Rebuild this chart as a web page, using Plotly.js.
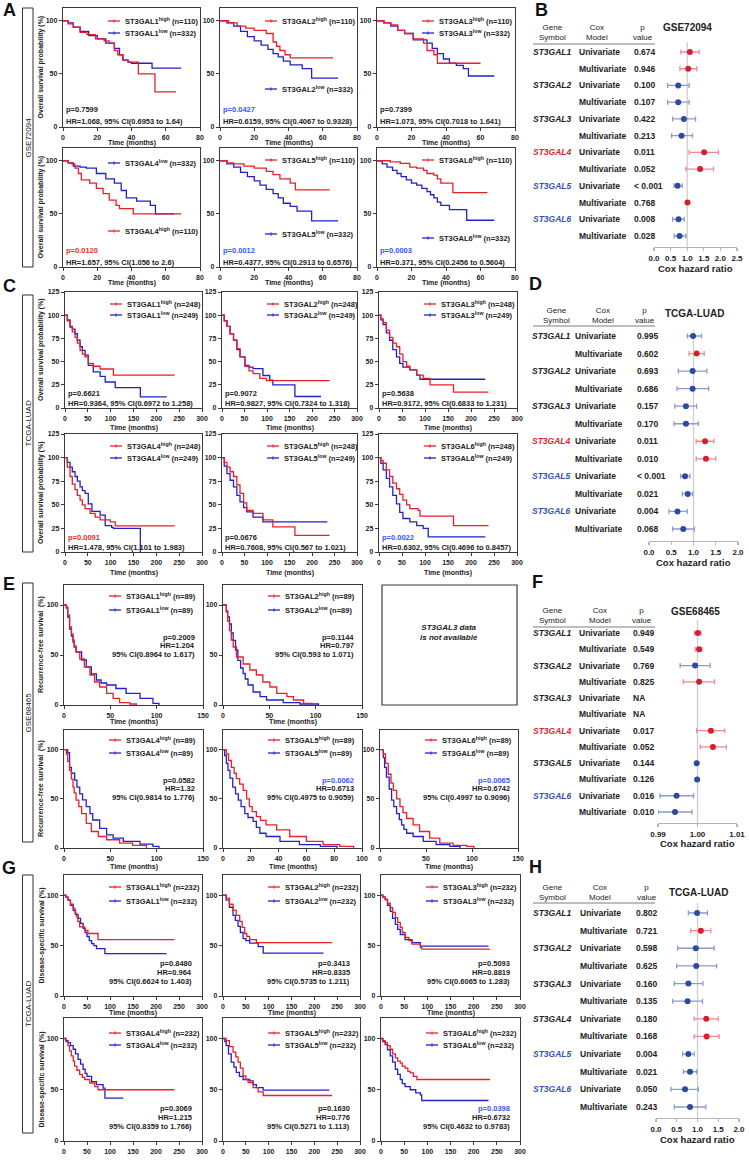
<!DOCTYPE html>
<html><head><meta charset="utf-8">
<script src="https://cdn.plot.ly/plotly-3.0.1.min.js"></script>
<style>html,body{margin:0;padding:0;background:#fff}#chart{width:749px;height:1161px}</style>
</head><body><div id="chart"></div>
<script>
// ---------------- DATA ----------------
const genes = ['ST3GAL1','ST3GAL2','ST3GAL3','ST3GAL4','ST3GAL5','ST3GAL6'];
const coxModels = ['Univariate','Multivariate'];

// A: GSE72094 overall survival, [months, survival %]
const a1High = [[0,100],[3,97],[6,94],[10,89],[14,87],[19,83],[24,81],[27,79],[30,72],[32,68],[35,63],[38,61],[44,50],[53.7,33],[66,33]];
const a1Low  = [[0,100],[3,98],[6,94],[10,90],[15,86],[20,83],[25,79],[30,74],[33,68],[35,63],[38,61],[40,60],[52,55.5],[69,55.5]];
const a2High = [[0,100],[5,98],[10,95],[15,93],[20,91],[27,88],[31,80],[33,76],[35,72],[38,68],[41,65],[66,65]];
const a2Low  = [[0,100],[4,98],[8,95],[12,90],[16,85],[20,81],[24,77],[28,73],[31,69],[34,66],[37,62],[41,58.5],[48,55],[53.5,46],[69,46]];
const a3High = [[0,100],[4,98],[8,96],[12,91],[16,88],[21,83],[27,79],[29,72],[33,68],[35,60],[60,60]];
const a3Low  = [[0,100],[4,98],[8,95],[12,91],[16,88],[21,82],[29,79],[32,74],[35,69],[38.5,64],[42,60],[46,58],[50,55],[53,48],[68,48]];
const a4High = [[0,100],[3,98],[5,97],[7,93],[9,88],[10.7,82],[15.6,79],[19.5,74],[23.4,69],[27,63],[31,58],[33,55],[41,50],[69,50]];
const a4Low  = [[0,100],[3,98],[6,95],[10,94],[13.6,93],[19.5,88],[25,83],[30,79],[34,72],[37,65],[43,62],[51,58],[54,50],[65,50]];
const a5High = [[0,100],[4,98],[8,97],[14,95],[20,93],[27,90],[31,87],[35,83],[41,79],[44,72.5],[64,72.5]];
const a5Low  = [[0,100],[4,97],[8,94],[12,89],[16,85],[20,81],[23.4,77],[27,73],[31,69],[34,65],[37,60],[41,57],[45,52.5],[53.5,43.5],[69,43.5]];
const a6High = [[0,100],[7.7,99],[13.5,97.5],[19,94],[23,93],[27,91],[29,88],[33,86.5],[35,83],[37,79],[44,70],[64,70]];
const a6Low  = [[0,100],[3,97],[5.8,94],[9,91],[11.6,88],[14,85],[17,82],[20,79],[23,77],[26,74],[29,71],[31,68],[33,65],[35,61],[37,58],[42,54],[52,44],[68,44]];

// C: TCGA-LUAD overall survival
const c1High = [[0,100],[5,94],[11,87],[16,82],[22,76],[27,70],[33,62],[38,58],[44,55],[51,48],[62,45],[77,42],[106,35.5],[240,35.5]];
const c1Low  = [[0,100],[5,95],[11,88],[16,85],[22,80],[27,73],[33,66],[38,62],[44,57],[51,46],[62,39],[77,34],[88,28],[110,22],[165,12],[223,12]];
const c2High = [[0,100],[5,94],[11,88],[18,80],[25.6,73],[33,64],[40,55],[51,45],[60,40],[69,37],[84,32],[99,29.4],[239,29.4]];
const c2Low  = [[0,100],[5,94],[11,88],[18,80],[25.6,73],[33,63],[40,55],[51,46],[60,44],[69,42.5],[91,35],[106,30],[113,25],[162,12.4],[220,12.4]];
const c3High = [[0,100],[4,96],[9,92],[16,84],[23,76],[30,70],[38,66],[45,58],[52,50],[60,45],[67,41],[82,35.5],[96,32],[111,25],[162,17],[238,17]];
const c3Low  = [[0,100],[4,95],[9,90],[16,81],[23,73],[30,63],[38,55],[45,48],[52,44],[67,41],[82,35.5],[89,31],[231,31]];
const c4High = [[0,100],[5,90],[11,80],[16,72],[22,66],[27,60],[33,55],[38,50],[44,46],[55,41],[66,37],[77,34],[99,32],[110,27.7],[240,27.7]];
const c4Low  = [[0,100],[5,95],[11,90],[16,85],[22,80],[27,75],[33,69],[38,65],[44,62],[51,51],[59,43],[77,39],[88,28],[102,26],[106,25],[165,0]];
const c5High = [[0,100],[5,95],[11,90],[18,85],[25.6,80],[33,71],[40,62],[48,52],[55,44],[69,41],[91,34],[113,26.6],[162,17.7],[239,17.7]];
const c5Low  = [[0,100],[5,91],[11,83],[18,76],[25.6,69],[33,60],[40,53],[48,47],[55,42.5],[69,37],[91,32],[234,32]];
const c6High = [[0,100],[4,97],[9,94],[16,87],[23,80],[30,73],[38,67],[45,61],[52,55],[60,50],[67,46],[85,44],[89,38],[162,28],[238,28]];
const c6Low  = [[0,100],[4,94],[9,87],[16,78],[23,69],[30,60],[38,51],[45,42],[52,35.5],[67,32],[82,28],[96,25],[107,16],[231,16]];

// E: GSE68465 recurrence-free survival
const e1High = [[0,100],[2.5,98],[4,90],[6,78],[8,71],[9.7,65],[11,59],[13,53],[17,46],[22,38],[28,30],[33,23],[38.5,18],[46,11.6],[53,6.6],[60,2.3],[71,1],[78,0]];
const e1Low  = [[0,100],[2.5,97],[4,88],[6,76],[8,69],[9.7,63],[11,58],[13,53],[19,45],[24,38],[29.5,31],[35,25],[40,22],[46,20],[56,16.5],[67,11.6],[82,6.6],[96,1.6],[102.5,0]];
const e2High = [[0,100],[3.6,93],[5,84],[7,74.5],[9,65],[11,58],[14.5,48],[21.7,41],[29,35],[36,30],[43,23],[50.6,18],[58,11.6],[69,8.3],[76,5],[87,1.6],[96,0]];
const e2Low  = [[0,100],[3.6,94],[5,88],[7,81],[9,72],[11,64.6],[13.5,55],[16,44.7],[19,37],[21.7,31.5],[24,26],[27,20],[32.5,13],[40,8.3],[47,5],[65,2.3],[83,1],[103,0]];
const e4High = [[0,100],[2.5,95.6],[4,88],[6,79],[8,70],[9.7,62],[11,56],[13,48.7],[16,42],[19,35],[24,25],[29.5,16.8],[37,11.7],[46,8.4],[60,5],[74,2.7],[89,0]];
const e4Low  = [[0,100],[4,97],[6,82],[8,76],[11.5,69],[14,62],[17,55],[20,49],[24,42],[28,35],[31,28.5],[38.5,20],[46,13.4],[53,10],[64,6.7],[82,4],[96,1.7],[102.5,0]];
const e5High = [[0,100],[2.4,95.6],[4,89],[6,82],[8,76],[9.6,70.5],[12,65],[14.5,58.7],[17,50],[19,42],[21,37],[24,32],[27,28],[31,23.5],[38.6,18.5],[48,11.7],[60,6.7],[72,3.4],[84,1.7],[94,0]];
const e5Low  = [[0,100],[1.2,94],[2.4,86],[3.6,79],[5,71],[7,62],[9,55],[11,48.7],[13,42],[15.7,35],[18,31],[21.7,27],[24,21],[26.5,15],[31,11.7],[41,6.7],[55,3.4],[70,1.7],[82,0]];
const e6High = [[0,100],[3.6,95.6],[6,86],[9,75],[12,66],[14.5,58.7],[18,50],[21.7,42],[25,36],[29,30],[36,23.5],[43,16.8],[54,10],[65,5],[79.5,2.7],[94,1.7],[102,0]];
const e6Low  = [[0,100],[3.6,92],[5,82],[7,72],[10,60],[12.6,48.7],[15,42],[18,35],[21,29],[23.5,23.5],[26,19],[29,15],[36,11.7],[47,6.7],[61,3.4],[76,1.7],[87,0]];

// G: TCGA-LUAD disease-specific survival
const g1High = [[0,100],[4,98],[8.7,95],[14,91],[20,87],[24,82],[27,78.5],[30,74],[34,68.6],[45,65],[52,62],[74,56],[240,56]];
const g1Low  = [[0,100],[4,98],[8.7,95],[14,90],[20,85],[25,81],[30.6,77],[36,72],[41.5,67],[46,63],[50,59],[55,55],[60,52],[65,50],[70.6,47],[89,42],[223,42]];
const g2High = [[0,100],[7,97],[14,91],[22,85],[29,80],[36.6,74],[42,68],[47.5,62],[52,59],[58.5,56],[73,53],[239,53]];
const g2Low  = [[0,100],[7,95],[14,88],[22,80],[27,75],[33,69],[38,63],[44,57],[50,55],[58.5,52.5],[77,49],[88,42.6],[220,42.6]];
const g3High = [[0,100],[4,98],[9,95.7],[14,92],[20,87.5],[25,83],[31,77.7],[36,73],[41.6,68],[46,63],[52,58],[60,55],[67,51.5],[85,48],[88,46.5],[235,46.5]];
const g3Low  = [[0,100],[4,98],[9,95.7],[14,90],[20,84],[25,77],[31,71],[36,66],[41.6,61],[52,56],[67,53],[85,49.5],[232,49.5]];
const g4High = [[0,100],[4,97],[8.7,93],[12,88],[16,83],[20,78],[23,73],[28,69],[34,65],[40,62],[45,60],[56,56.6],[67,53],[74,50],[240,50]];
const g4Low  = [[0,100],[4,98],[8.7,96],[14,93],[20,89.5],[25,85],[30.6,79.6],[36,75],[41.5,70],[46,66],[50,63],[60,58],[70.6,55],[85,51.6],[89,41.8],[129,41.8]];
const g5High = [[0,100],[7,98],[14,92],[22,86.7],[28,82],[33,77],[38,71],[44,63.5],[50,60],[55,57],[66,52],[77,48],[88,44.4],[239,44.4]];
const g5Low  = [[0,100],[4,97],[7,93],[12,85],[18,77],[24,72],[29,67],[36,63],[44,60],[58.5,58.6],[66,55],[73,52],[88,49.7],[233,49.7]];
const g6High = [[0,100],[4,98],[9,96],[14,93],[20,89.5],[25,85],[31,81],[36,78],[41.6,76],[46,73],[52,71],[58,68],[63,66.4],[70,63],[77.5,60],[235,60]];
const g6Low  = [[0,100],[4,97],[9,94],[14,89],[20,83],[25,77],[31,70],[36,65],[41.6,60],[46,56],[52,53],[63,50],[75,47],[85,45],[88,39.5],[232,39.5]];

// group sizes [high, low]
const aN = [110,332], cN = [248,249], eN = [89,89], gN = [232,232];

// log-rank statistics
const aP  = ['0.7599','0.0427','0.7399','0.0120','0.0012','0.0003'];
const aHR = ['1.068','0.6159','1.073','1.657','0.4377','0.371'];
const aCI = ['0.6953 to 1.64','0.4067 to 0.9328','0.7018 to 1.641','1.056 to 2.6','0.2913 to 0.6576','0.2456 to 0.5604'];
const cP  = ['0.6621','0.9072','0.5638','0.0091','0.0676','0.0022'];
const cHR = ['0.9364','0.9827','0.9172','1.478','0.7608','0.6302'];
const cCI = ['0.6972 to 1.258','0.7324 to 1.318','0.6833 to 1.231','1.101 to 1.983','0.567 to 1.021','0.4696 to 0.8457'];
const eP  = ['0.2009','0.1144',null,'0.0582','0.0062','0.0065'];
const eHR = ['1.204','0.797',null,'1.32','0.6713','0.6742'];
const eCI = ['0.8964 to 1.617','0.593 to 1.071',null,'0.9814 to 1.776','0.4975 to 0.9059','0.4997 to 0.9096'];
const gP  = ['0.8480','0.3413','0.5093','0.3069','0.1630','0.0398'];
const gHR = ['0.964','0.8335','0.8819','1.215','0.776','0.6732'];
const gCI = ['0.6624 to 1.403','0.5735 to 1.211','0.6065 to 1.283','0.8359 to 1.766','0.5271 to 1.113','0.4632 to 0.9783'];

// Cox forest data (12 rows: gene x [uni, multi])
const bHR = [1.08,1.03,0.73,0.73,0.90,0.83,1.51,1.39,0.71,1.01,0.74,0.77];
const bLo = [0.81,0.78,0.41,0.41,0.56,0.53,1.06,0.96,0.60,0.98,0.56,0.61];
const bHi = [1.36,1.29,1.06,1.06,1.25,1.16,1.94,1.79,0.85,1.03,0.91,0.96];
const bP  = ['0.674','0.946','0.100','0.107','0.422','0.213','0.011','0.052','< 0.001','0.768','0.008','0.028'];
const dHR = [0.99,1.07,0.98,0.98,0.83,0.83,1.26,1.28,0.81,0.87,0.64,0.77];
const dLo = [0.86,0.90,0.66,0.63,0.58,0.56,1.06,1.06,0.71,0.75,0.45,0.53];
const dHi = [1.18,1.24,1.30,1.34,1.07,1.11,1.46,1.50,0.92,0.98,0.86,1.02];
const dP  = ['0.995','0.602','0.693','0.686','0.157','0.170','0.011','0.010','< 0.001','0.021','0.004','0.068'];
const fHR = [1.0001,1.0004,0.9994,1.0004,null,null,1.0034,1.0039,0.9998,0.9999,0.9947,0.9943];
const fLo = [0.9992,0.9994,0.9956,0.9964,null,null,0.9998,1.0007,0.9997,0.9998,0.9905,0.9900];
const fHi = [1.0009,1.0011,1.0032,1.0043,null,null,1.0069,1.0073,0.9999,1.0000,0.9990,0.9986];
const fP  = ['0.949','0.549','0.769','0.825','NA','NA','0.017','0.052','0.144','0.126','0.016','0.010'];
const hHR = [0.99,1.08,0.96,0.97,0.78,0.76,1.21,1.22,0.78,0.82,0.70,0.82];
const hLo = [0.78,0.84,0.52,0.50,0.44,0.40,0.92,0.92,0.64,0.66,0.36,0.44];
const hHi = [1.24,1.32,1.40,1.46,1.13,1.12,1.50,1.52,0.92,0.98,1.02,1.20];
const hP  = ['0.802','0.721','0.598','0.625','0.160','0.135','0.180','0.168','0.004','0.021','0.050','0.243'];

// ---------------- DRAWING ----------------
const W = 749, H = 1161;
const FONT = '"Liberation Sans", Arial, sans-serif';
const RED = '#e8202a', BLUE = '#2222c8';
const P_RED = '#ee2a2a', P_BLUE = '#3a55ff';
const TXT = '#222';
const traces = [], shapes = [], anns = [];
const layout = {width:W, height:H, margin:{l:0,r:0,t:0,b:0}, paper_bgcolor:'#fff', plot_bgcolor:'rgba(0,0,0,0)', showlegend:false, font:{family:FONT}};

function ann(text, x, y, o) {
  o = o || {};
  return {text:text, xref:'paper', yref:'paper', x:x/W, y:1-y/H, showarrow:false,
    xanchor:o.xanchor||'center', yanchor:o.yanchor||'middle', textangle:o.angle||0,
    align:o.align||'center', borderpad:0,
    font:{family:FONT, size:o.size||8, color:o.color||TXT}};
}
function pline(x0,y0,x1,y1,color,width){
  shapes.push({type:'line', xref:'paper', yref:'paper', x0:x0/W, x1:x1/W, y0:1-y0/H, y1:1-y1/H, line:{color:color, width:width}});
}
let axN = 0;
const axName = (k,c) => k===1 ? c : c+k;
const axKey = (k,c) => k===1 ? c+'axis' : c+'axis'+k;
const tickFont = {family:FONT, size:7, color:TXT, weight:'bold'};
const kmAxis = {showline:true, mirror:true, linecolor:'#3a3a3a', linewidth:1.2, ticks:'outside', ticklen:3, tickwidth:1,
  tickcolor:'#3a3a3a', showgrid:false, zeroline:false, tickfont:tickFont, fixedrange:true};

const sup = (g, lvl, n) => '<b>' + g + '<sup>' + lvl + '</sup> (n=' + n + ')</b>';

const rowSpecs = [
 {curves:[[a1High,a1Low],[a2High,a2Low],[a3High,a3Low],[a4High,a4Low],[a5High,a5Low],[a6High,a6Low]],
  n:aN, p:aP, hr:aHR, ci:aCI, xr:[0,80], xt:[0,20,40,60,80], yr:[0,112], yt:[0,50,100],
  ytitle:'Overall survival probability (%)', cols:[[63,200],[220,357],[377,515]], rowsY:[[8,127],[148,267]],
  legY:[[13,25],[13,81],[13,25],[83,15],[12,86],[12,90]], statStyle:'left', statOff:[-17,-5],
  timeY:[143,283], box:{label:'GSE72094', y:[8,267]}},
 {curves:[[c1High,c1Low],[c2High,c2Low],[c3High,c3Low],[c4High,c4Low],[c5High,c5Low],[c6High,c6Low]],
  n:cN, p:cP, hr:cHR, ci:cCI, xr:[0,300], xt:[0,50,100,150,200,250,300], yr:[0,125], yt:[0,25,50,75,100,125],
  ytitle:'Overall survival probability (%)', cols:[[65,202],[222,357],[379,517]], rowsY:[[292,408],[434,552]],
  legY:[[12,23],[12,23],[12,23],[12,24],[12,24],[12,24]], statStyle:'left', statOff:[-14.5,-5],
  timeY:[428,573], box:{label:'TCGA-LUAD', y:[295,552]}},
 {curves:[[e1High,e1Low],[e2High,e2Low],null,[e4High,e4Low],[e5High,e5Low],[e6High,e6Low]],
  n:eN, p:eP, hr:eHR, ci:eCI, xr:[0,150], xt:[0,50,100,150], yr:[0,120], yt:[0,50,100],
  override:{4:{xr:[0,100], xt:[0,20,40,60,80,100]}},
  ytitle:'Recurrence-free survival  (%)', cols:[[64,203],[223,362],[380,518]], rowsY:[[585,705],[730,848]],
  legY:[[11,25],[11,25],null,[10,23],[10,23],[10,23]], statStyle:'right', statOff:[-68,-59.5,-51], statRight:7,
  timeY:[722,867], box:{label:'GSE68465', y:[583,842]}},
 {curves:[[g1High,g1Low],[g2High,g2Low],[g3High,g3Low],[g4High,g4Low],[g5High,g5Low],[g6High,g6Low]],
  n:gN, p:gP, hr:gHR, ci:gCI, xr:[0,300], xt:[0,50,100,150,200,250,300], yr:[0,120], yt:[0,50,100],
  ytitle:'Disease-specific survival (%)', cols:[[64,202],[223,360],[381,520]], rowsY:[[875,996],[1018,1141]],
  legY:[[12,26],[12,26],[12,26],[15,27],[15,27],[15,27]], statStyle:'right', statOff:[-33,-24,-14.5], statRight:9,
  timeY:[1013,null], box:{label:'TCGA-LUAD', y:[875,1133]}}
];

function kmTrace(pts, color, k){
  return {x:pts.map(p=>p[0]), y:pts.map(p=>p[1]), type:'scatter', mode:'lines',
    line:{shape:'hv', color:color, width:1.3}, xaxis:axName(k,'x'), yaxis:axName(k,'y'),
    hoverinfo:'skip', showlegend:false};
}

rowSpecs.forEach(row => {
  // dataset box
  shapes.push({type:'rect', xref:'paper', yref:'paper', x0:22.5/W, x1:33/W, y0:1-row.box.y[1]/H, y1:1-row.box.y[0]/H, line:{color:'#333', width:1}});
  anns.push(ann(row.box.label, 28, (row.box.y[0]+row.box.y[1])/2, {angle:-90, size:8, color:'#111'}));
  for (let i=0;i<6;i++){
    const r = Math.floor(i/3), c = i%3;
    const [x0,x1] = row.cols[c];
    const [yt0,yb0] = row.rowsY[r];
    if (!row.curves[i]) {
      shapes.push({type:'rect', xref:'paper', yref:'paper', x0:(x0+2)/W, x1:(x1-1)/W, y0:1-yb0/H, y1:1-yt0/H, line:{color:'#3a3a3a', width:1.2}});
      anns.push(ann('<b><i>' + genes[i] + ' data<br>is not available</i></b>', (x0+x1)/2, (yt0+yb0)/2 - 13, {size:8}));
      continue;
    }
    const k = ++axN;
    const ov = (row.override && row.override[i]) || {};
    layout[axKey(k,'x')] = Object.assign({}, kmAxis, {domain:[x0/W, x1/W], range:ov.xr||row.xr, tickvals:ov.xt||row.xt, anchor:axName(k,'y')});
    layout[axKey(k,'y')] = Object.assign({}, kmAxis, {domain:[1-yb0/H, 1-yt0/H], range:row.yr, tickvals:row.yt, anchor:axName(k,'x')});
    const [hi, lo] = row.curves[i];
    traces.push(kmTrace(lo, BLUE, k));
    traces.push(kmTrace(hi, RED, k));
    // legend
    const ly = row.legY[i];
    [[ly[0],RED,'high',row.n[0]],[ly[1],BLUE,'low',row.n[1]]].forEach(([dy,col,lvl,n]) => {
      const yy = yt0 + dy;
      pline(x0+45, yy, x0+57, yy, col, 1.3);
      pline(x0+51, yy-1.6, x0+51, yy+1.6, col, 1);
      anns.push(ann(sup(genes[i], lvl, n), x0+61, yy, {xanchor:'left', size:7.5}));
    });
    // statistics
    const p = row.p[i];
    const sig = parseFloat(p) < 0.05;
    const pc = sig ? (parseFloat(row.hr[i]) > 1 ? P_RED : P_BLUE) : TXT;
    if (row.statStyle === 'left') {
      anns.push(ann('<b>p=' + p + '</b>', x0+2, yb0+row.statOff[0], {xanchor:'left', size:7.5, color:pc}));
      anns.push(ann('<b>HR=' + row.hr[i] + ', 95% CI(' + row.ci[i] + ')</b>', x0+2, yb0+row.statOff[1], {xanchor:'left', size:7.5}));
    } else {
      const xr = x1 - row.statRight;
      anns.push(ann('<b>p=' + p + '</b>', xr, yb0+row.statOff[0], {xanchor:'right', size:7.5, color:pc}));
      anns.push(ann('<b>HR=' + row.hr[i] + '</b>', xr, yb0+row.statOff[1], {xanchor:'right', size:7.5}));
      anns.push(ann('<b>95% CI(' + row.ci[i] + ')</b>', xr, yb0+row.statOff[2], {xanchor:'right', size:7.5}));
    }
    // axis titles
    if (row.timeY[r]) anns.push(ann('<b>Time (months)</b>', (x0+x1)/2, row.timeY[r], {size:7}));
    if (c === 0) anns.push(ann('<b>' + row.ytitle + '</b>', 41, (yt0+yb0)/2, {angle:-90, size:7}));
  }
});

// ---------------- FOREST PLOTS ----------------
const forestSpecs = [
 {title:'GSE72094', hr:bHR, lo:bLo, hi:bHi, p:bP, xr:[0,2.5], xt:[0,0.5,1,1.5,2,2.5], fmt:'.1f',
  xdom:[654,737], ydom:[42,247], rowY:[52,236], geneX:552, coxX:578, pX:633,
  headY:33, headX:[552,597,643], headLine:[533,655,44], titleXY:[687,28], axisTitleY:268},
 {title:'TCGA-LUAD', hr:dHR, lo:dLo, hi:dHi, p:dP, xr:[0,2], xt:[0,0.5,1,1.5,2], fmt:'.1f',
  xdom:[649,738], ydom:[330,541], rowY:[336,529], geneX:551, coxX:574, pX:636,
  headY:315.5, headX:[556,603,645], headLine:[533,655,326], titleXY:[694,314], axisTitleY:563},
 {title:'GSE68465', hr:fHR, lo:fLo, hi:fHi, p:fP, xr:[0.99,1.01], xt:[0.99,1,1.01], fmt:'.2f',
  xdom:[658,737], ydom:[620,823], rowY:[633,812], geneX:552, coxX:578, pX:632,
  headY:615, headX:[552,600,642], headLine:[533,655,627], titleXY:[695,611], axisTitleY:844},
 {title:'TCGA-LUAD', hr:hHR, lo:hLo, hi:hHi, p:hP, xr:[0,2], xt:[0,0.5,1,1.5,2], fmt:'.1f',
  xdom:[656,739], ydom:[903,1118], rowY:[913,1107], geneX:552, coxX:579, pX:635,
  headY:892, headX:[552,600,647], headLine:[533,655,903], titleXY:[698,892], axisTitleY:1139}
];
const DOT_RED = '#d81e2c', DOT_BLUE = '#2c4a9e', ERR_RED = '#f08a90', ERR_BLUE = '#8b9bd0';
const pNum = s => s.indexOf('<') >= 0 ? 0.0005 : (s === 'NA' ? 1 : parseFloat(s));

forestSpecs.forEach(f => {
  const k = ++axN;
  const step = (f.rowY[1]-f.rowY[0])/11;
  const topVal = 1 - (f.rowY[0]-f.ydom[0])/step;
  const botVal = 12 + (f.ydom[1]-f.rowY[1])/step;
  layout[axKey(k,'x')] = {domain:[f.xdom[0]/W, f.xdom[1]/W], range:f.xr, tickvals:f.xt, tickformat:f.fmt,
    showline:true, linecolor:'#b5b5b5', linewidth:1.3, ticks:'outside', ticklen:3, tickcolor:'#b5b5b5', tickwidth:1.2,
    showgrid:false, zeroline:false, anchor:axName(k,'y'), fixedrange:true,
    tickfont:{family:FONT, size:8, color:TXT, weight:'bold'}};
  layout[axKey(k,'y')] = {domain:[1-f.ydom[1]/H, 1-f.ydom[0]/H], range:[botVal, topVal], visible:false,
    anchor:axName(k,'x'), fixedrange:true};
  shapes.push({type:'line', xref:axName(k,'x'), yref:axName(k,'y')+' domain', x0:1, x1:1, y0:0, y1:1,
    line:{color:'#cfcfcf', width:1.3}, layer:'below'});
  [[true,DOT_RED,ERR_RED],[false,DOT_BLUE,ERR_BLUE]].forEach(([isRed,dc,ec]) => {
    const idx = f.hr.map((v,i)=>i).filter(i => f.hr[i] !== null && ((f.hr[i] > 1) === isRed));
    traces.push({type:'scatter', mode:'markers', x:idx.map(i=>f.hr[i]), y:idx.map(i=>i+1),
      marker:{color:dc, size:6}, xaxis:axName(k,'x'), yaxis:axName(k,'y'), hoverinfo:'skip', showlegend:false,
      error_x:{type:'data', symmetric:false, array:idx.map(i=>f.hi[i]-f.hr[i]), arrayminus:idx.map(i=>f.hr[i]-f.lo[i]),
        color:ec, thickness:1.3, width:2.5}});
  });
  // title and axis title
  anns.push(ann('<b>' + f.title + '</b>', f.titleXY[0], f.titleXY[1], {size:10}));
  anns.push(ann('<b>Cox hazard ratio</b>', (f.xdom[0]+f.xdom[1])/2, f.axisTitleY, {size:9.5}));
  // table header
  anns.push(ann('Gene<br>Symbol', f.headX[0], f.headY, {size:8}));
  anns.push(ann('Cox<br>Model', f.headX[1], f.headY, {size:8}));
  anns.push(ann('p<br>value', f.headX[2], f.headY, {size:8}));
  pline(f.headLine[0], f.headLine[2], f.headLine[1], f.headLine[2], '#a8a8a8', 1.5);
  // table body
  for (let i=0;i<12;i++){
    const y = f.rowY[0] + i*step;
    if (i % 2 === 0) {
      const g = i/2;
      const sig = pNum(f.p[i]) <= 0.05;
      const gc = sig ? (f.hr[i] > 1 ? '#e0242c' : '#3552b0') : TXT;
      anns.push(ann('<b><i>' + genes[g] + '</i></b>', f.geneX, y, {size:8.5, color:gc}));
    }
    anns.push(ann('<b>' + coxModels[i%2] + '</b>', f.coxX, y, {xanchor:'left', size:8.5}));
    anns.push(ann('<b>' + f.p[i] + '</b>', f.pX, y, {xanchor:'left', size:8.5}));
  }
});

// panel letters
[['A',9,10],['B',541,10],['C',9,286],['D',535,284],['E',9,584],['F',537,582],['G',9,868],['H',535,867]]
  .forEach(([t,x,y]) => anns.push(ann('<b>' + t + '</b>', x, y, {size:18, color:'#111'})));

layout.shapes = shapes;
layout.annotations = anns;
Plotly.newPlot('chart', traces, layout, {staticPlot:true, displayModeBar:false});
</script>
</body></html>
